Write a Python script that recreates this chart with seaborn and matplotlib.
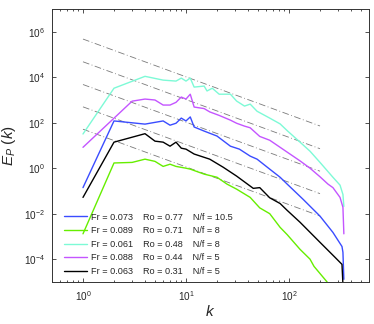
import numpy as np
import pandas as pd
import matplotlib
matplotlib.use("Agg")
import matplotlib.pyplot as plt
import matplotlib.ticker as mticker
import seaborn as sns

# spectra (k, E_P(k))
k_cyan = [1, 2, 4, 6, 8, 9, 10, 11, 12, 15, 16, 18, 21, 27, 31, 37, 42, 49, 65, 82, 96, 128, 160, 200, 267, 313, 334, 341]
E_cyan = [3.2e1, 3.3e3, 1.1e4, 7.5e3, 6.8e3, 9.2e3, 6.8e3, 9.2e3, 3.7e3, 4.1e3, 2.5e3, 3.3e3, 1.8e3, 1.8e3,
          9.0e2, 5.4e2, 6.6e2, 3.2e2, 1.6e2, 8.9e1, 4.5e1, 1.4e1, 5.6, 1.8, 4.0e-1, 1.8e-1, 7.0e-2, 2.1e-2]

k_pink = [1, 3, 4, 5, 6, 7, 8, 9, 10, 11, 12, 15, 17, 21, 27, 31, 37, 42, 52, 65, 82, 100, 128, 160, 200, 239, 267, 313, 334, 341]
E_pink = [8.3, 8.9e2, 1.1e3, 1.0e3, 6.0e2, 6.0e2, 7.9e2, 1.35e3, 1.1e3, 1.8e3, 4.9e2, 4.2e2, 3.0e2, 2.1e2,
          1.3e2, 9.5e1, 7.1e1, 6.0e1, 2.5e1, 1.7e1, 8.3, 4.5, 2.1, 1.0, 4.2e-1, 2.0e-1, 1.4e-1, 5.2e-2, 1.9e-2, 1.3e-3]

k_blue = [1, 2, 4, 6, 7, 8, 9, 10, 11, 12, 15, 20, 27, 33, 42, 49, 65, 82, 96, 137, 200, 267, 327, 334, 341]
E_blue = [1.4e-1, 1.2e2, 8.7e1, 1.2e2, 7.8e1, 9.5e1, 1.6e2, 1.2e2, 1.8e2, 6.5e1, 4.3e1, 2.6e1, 9.3, 6.9,
          3.4, 2.5, 9.1e-1, 4.0e-1, 2.0e-1, 4.3e-2, 7.8e-3, 1.5e-3, 3.6e-4, 2.0e-4, 1.3e-5]

k_black = [1, 2, 4, 5, 6, 7, 8, 9, 10, 12, 17, 23, 31, 45, 52, 65, 82, 96, 128, 200, 280, 327, 341]
E_black = [5.2e-2, 1.4e1, 3.3e1, 1.55e1, 1.4e1, 9.3, 1.4e1, 7.6, 6.9, 4.2, 2.5, 1.1, 4.5e-1, 1.3e-1,
           1.4e-1, 5.0e-2, 2.8e-2, 1.4e-2, 4.2e-3, 5.5e-4, 1.2e-4, 5.9e-5, 1.0e-6]

k_green = [1, 2, 3, 4, 5, 6, 7, 8, 10, 11, 15, 20, 25, 31, 42, 52, 65, 82, 96, 128, 160, 175, 234, 341]
E_green = [1.3e-3, 1.7, 1.8, 2.5, 2.0, 1.2, 1.5, 1.2, 1.0, 9.1e-1, 5.5e-1, 4.0e-1, 2.0e-1, 1.2e-1,
           5.2e-2, 1.8e-2, 1.0e-2, 2.5e-3, 1.2e-3, 2.7e-4, 1.0e-4, 4.8e-5, 1.0e-5, 3.0e-7]

labels = ["Fr = 0.073    Ro = 0.77    N/f = 10.5",
          "Fr = 0.089    Ro = 0.71    N/f = 8",
          "Fr = 0.061    Ro = 0.48    N/f = 8",
          "Fr = 0.088    Ro = 0.44    N/f = 5",
          "Fr = 0.063    Ro = 0.31    N/f = 5"]

y_ticks = [1e-4, 1e-2, 1e0, 1e2, 1e4, 1e6]

# k^(-5/3) guide lines: end points
ref_k = [1, 200]
ref_start = [4.8e5, 4.8e4, 4.8e3, 5.0e2, 5.2e1]
ref_end = [7.2e1, 7.2, 7.4e-1, 7.6e-2, 7.9e-3]


def main():
    sns.set_style("ticks")
    plt.rcParams["font.family"] = ["Liberation Sans", "DejaVu Sans"]
    plt.rcParams["mathtext.fontset"] = "custom"
    plt.rcParams["mathtext.rm"] = "Liberation Sans"
    plt.rcParams["mathtext.it"] = "Liberation Sans:italic"

    fig = plt.figure(figsize=(3.74, 3.24), dpi=100)
    ax = fig.add_axes([0.139, 0.13, 0.848, 0.842])

    for s, e in zip(ref_start, ref_end):
        ax.plot(ref_k, [s, e], color="#7a7a7a", lw=0.6, ls=(0, (8, 3, 1, 3)), zorder=1)

    curves = [(k_blue, E_blue, "#3a4cff"),
              (k_green, E_green, "#66ee00"),
              (k_cyan, E_cyan, "#7dfad6"),
              (k_pink, E_pink, "#c455ff"),
              (k_black, E_black, "black")]
    for (k, E, c), lab in zip(curves, labels):
        df = pd.DataFrame({"k": k, "E": E})
        sns.lineplot(data=df, x="k", y="E", color=c, lw=1.0, sort=False,
                     estimator=None, label=lab, ax=ax, zorder=3)

    ax.set_xscale("log")
    ax.set_yscale("log")
    ax.set_xlim(0.5, 600)
    ax.set_ylim(1e-5, 1e7)

    ax.yaxis.set_major_locator(mticker.FixedLocator(y_ticks))
    ax.yaxis.set_major_formatter(mticker.LogFormatterSciNotation(base=10))
    ax.yaxis.set_minor_locator(mticker.NullLocator())
    ax.xaxis.set_major_locator(mticker.LogLocator(base=10))
    ax.xaxis.set_minor_locator(mticker.LogLocator(base=10, subs=np.arange(2, 10)))
    ax.xaxis.set_minor_formatter(mticker.NullFormatter())

    ax.tick_params(which="both", direction="in", top=True, right=True,
                   labelsize=7.2, color="#333333", width=0.6, pad=5)
    ax.tick_params(which="major", length=3)
    ax.tick_params(which="minor", length=1.6)
    for sp in ax.spines.values():
        sp.set_color("#333333")
        sp.set_linewidth(0.7)

    ax.set_xlabel("$k$", fontsize=11, labelpad=1)
    ax.set_ylabel("$E_P\\ (k)$", fontsize=11, labelpad=4)

    ax.legend(loc="lower left", bbox_to_anchor=(0.015, -0.005), frameon=False,
              fontsize=6.6, handlelength=2.5, handletextpad=0.45,
              labelspacing=0.5, borderpad=0.3)

    fig.savefig("out.png", dpi=100)


if __name__ == "__main__":
    main()
